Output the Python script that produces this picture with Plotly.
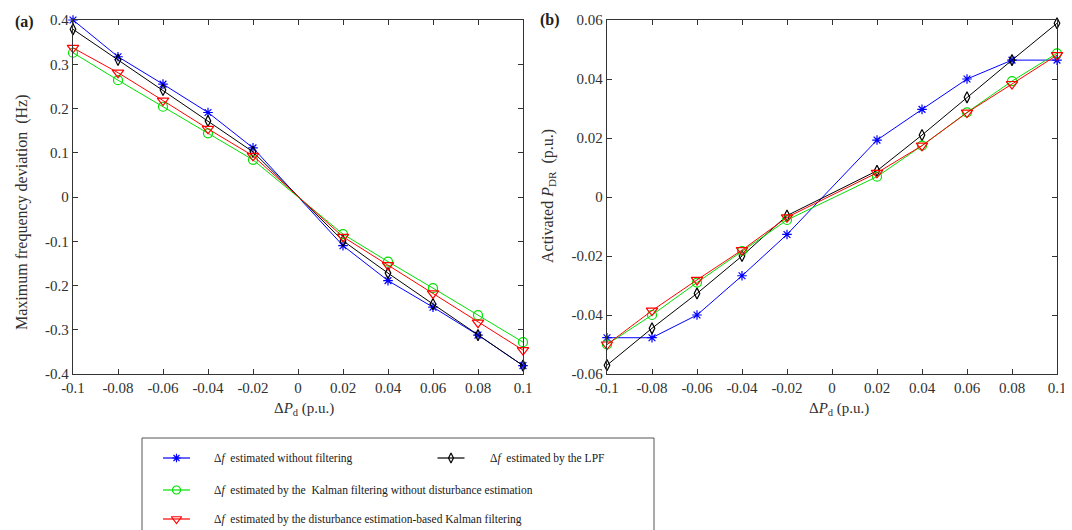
import plotly.graph_objects as go

W, H = 1072, 530
OFF = 8  # page body margin of the rendered html

# ---------------- data ----------------
dPd = [-0.1, -0.08, -0.06, -0.04, -0.02, 0.02, 0.04, 0.06, 0.08, 0.1]

# (a) Maximum frequency deviation (Hz)
a_nofilter = [0.400, 0.317, 0.255, 0.191, 0.111, -0.110, -0.189, -0.249, -0.312, -0.381]
a_lpf      = [0.379, 0.310, 0.242, 0.172, 0.102, -0.099, -0.172, -0.242, -0.312, -0.381]
a_kf       = [0.326, 0.264, 0.204, 0.144, 0.084, -0.084, -0.146, -0.206, -0.267, -0.328]
a_dekf     = [0.337, 0.281, 0.218, 0.154, 0.093, -0.090, -0.154, -0.218, -0.284, -0.346]

# (b) Activated P_DR (p.u.)
b_nofilter = [-0.0477, -0.0477, -0.0400, -0.0267, -0.0127, 0.0193, 0.0297, 0.0400, 0.0464, 0.0464]
b_lpf      = [-0.0570, -0.0445, -0.0327, -0.0200, -0.0063, 0.0089, 0.0210, 0.0338, 0.0464, 0.0589]
b_kf       = [-0.0500, -0.0400, -0.0290, -0.0183, -0.0078, 0.0069, 0.0174, 0.0287, 0.0393, 0.0487]
b_dekf     = [-0.0500, -0.0385, -0.0281, -0.0180, -0.0069, 0.0082, 0.0174, 0.0286, 0.0383, 0.0481]

x_tickvals = [-0.1, -0.08, -0.06, -0.04, -0.02, 0, 0.02, 0.04, 0.06, 0.08, 0.1]
x_ticktext = ["-0.1", "-0.08", "-0.06", "-0.04", "-0.02", "0", "0.02", "0.04", "0.06", "0.08", "0.1"]
ya_tickvals = [0.4, 0.3, 0.2, 0.1, 0, -0.1, -0.2, -0.3, -0.4]
ya_ticktext = ["0.4", "0.3", "0.2", "0.1", "0", "-0.1", "-0.2", "-0.3", "-0.4"]
yb_tickvals = [0.06, 0.04, 0.02, 0, -0.02, -0.04, -0.06]
yb_ticktext = ["0.06", "0.04", "0.02", "0", "-0.02", "-0.04", "-0.06"]

legend_names = [
    "Δ<i>f</i>  estimated without filtering",
    "Δ<i>f</i>  estimated by the LPF",
    "Δ<i>f</i>  estimated by the  Kalman filtering without disturbance estimation",
    "Δ<i>f</i>  estimated by the disturbance estimation-based Kalman filtering",
]

# ---------------- styles ----------------
styles = {
    "nofilter": dict(color="#0000FF", symbol="asterisk-open", size=8),
    "lpf": dict(color="#000000", symbol="diamond-tall-open", size=8),
    "kf": dict(color="#00E000", symbol="circle-open", size=9),
    "dekf": dict(color="#FF0000", symbol="triangle-down-open", size=10),
}

FONT = "Liberation Serif"
AX = "#333333"

fig = go.Figure()

def add_series(x, y, key, xa, ya):
    s = styles[key]
    fig.add_trace(go.Scatter(
        x=x, y=y, mode="lines+markers", xaxis=xa, yaxis=ya, showlegend=False,
        line=dict(color=s["color"], width=1),
        marker=dict(symbol=s["symbol"], size=s["size"], color=s["color"],
                    line=dict(color=s["color"], width=1.2)),
        cliponaxis=False,
    ))

for key, ya_, yb_ in [("nofilter", a_nofilter, b_nofilter), ("lpf", a_lpf, b_lpf),
                       ("kf", a_kf, b_kf), ("dekf", a_dekf, b_dekf)]:
    add_series(dPd, ya_, key, "x", "y")
    add_series(dPd, yb_, key, "x2", "y2")

# ---------------- layout ----------------
def px_x(p):
    return (p - OFF) / W

def px_y(p):
    return 1 - (p - OFF) / H

common_axis = dict(
    showgrid=False, zeroline=False, showline=True, linecolor=AX, linewidth=1.3,
    mirror="ticks", ticks="inside", ticklen=5, tickwidth=1, tickcolor=AX,
    tickfont=dict(family=FONT, size=15, color="#303030"), automargin=False,
)

fig.update_layout(
    width=W, height=H,
    margin=dict(l=0, r=0, t=0, b=0, pad=0, autoexpand=False),
    paper_bgcolor="white", plot_bgcolor="rgba(0,0,0,0)",
    xaxis=dict(domain=[px_x(73), px_x(523)], range=[-0.1, 0.1], tickvals=x_tickvals,
               ticktext=x_ticktext, anchor="y", **common_axis),
    yaxis=dict(domain=[px_y(374), px_y(20)], range=[-0.4, 0.4], tickvals=ya_tickvals,
               ticktext=ya_ticktext, anchor="x", **common_axis),
    xaxis2=dict(domain=[px_x(607), px_x(1057)], range=[-0.1, 0.1], tickvals=x_tickvals,
                ticktext=x_ticktext, anchor="y2", **common_axis),
    yaxis2=dict(domain=[px_y(374), px_y(20)], range=[-0.06, 0.06], tickvals=yb_tickvals,
                ticktext=yb_ticktext, anchor="x2", **common_axis),
    xaxis3=dict(domain=[0, 1], range=[OFF, W + OFF], visible=False, anchor="y3", automargin=False),
    yaxis3=dict(domain=[0, 1], range=[H + OFF, OFF], visible=False, anchor="x3", automargin=False),
    showlegend=False,
    font=dict(family=FONT, color="#202020"),
)

annots = []
def ann(text, x, y, size, xanchor="center", yanchor="middle", angle=0, color="#303030"):
    annots.append(dict(text=text, x=px_x(x), y=px_y(y), xref="paper", yref="paper",
                       xanchor=xanchor, yanchor=yanchor, showarrow=False, textangle=angle,
                       font=dict(family=FONT, size=size, color=color)))

# panel labels
ann("<b>(a)</b>", 24, 22, 16, color="#202020")
ann("<b>(b)</b>", 550, 20, 16, color="#202020")
# axis titles
xt = "Δ<i>P</i><sub>d</sub> (p.u.)"
ann(xt, 304, 409, 15)
ann(xt, 839, 409, 15)
ann("Maximum frequency deviation  (Hz)", 22, 213, 16, angle=-90)
ann("Activated <i>P</i><sub>DR</sub>  (p.u.)", 549, 196, 16, angle=-90)

# legend (manual)
legend_rows = [
    ("nofilter", 176.5, 458, 212),
    ("lpf", 451, 458, 488),
    ("kf", 176.5, 490, 212),
    ("dekf", 176.5, 519, 212),
]
shapes = [dict(type="rect", xref="paper", yref="paper", x0=px_x(142), x1=px_x(654),
               y0=px_y(438), y1=-0.05, line=dict(color="#555555", width=1),
               fillcolor="rgba(0,0,0,0)", layer="below")]
for (key, cx, cy, tx), name in zip(legend_rows, legend_names):
    s = styles[key]
    fig.add_trace(go.Scatter(
        x=[cx - 13.5, cx + 13.5], y=[cy, cy], mode="lines", xaxis="x3", yaxis="y3",
        showlegend=False, hoverinfo="skip", line=dict(color=s["color"], width=1.2)))
    fig.add_trace(go.Scatter(
        x=[cx], y=[cy], mode="markers", xaxis="x3", yaxis="y3", showlegend=False,
        hoverinfo="skip",
        marker=dict(symbol=s["symbol"], size=s["size"] - 1, color=s["color"],
                    line=dict(color=s["color"], width=1.2))))
    ann(name, tx, cy, 11.5, xanchor="left", color="#202020")

fig.update_layout(annotations=annots, shapes=shapes)

fig.write_html("out.html")
